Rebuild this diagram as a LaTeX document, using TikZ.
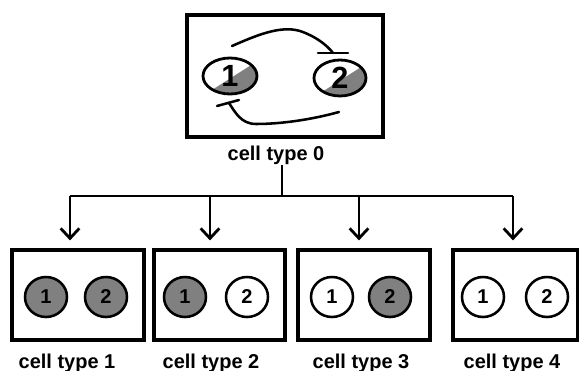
\documentclass[tikz,border=0pt]{standalone}
\usepackage{fontspec}
\setmainfont{Liberation Sans}
\usetikzlibrary{arrows.meta,shapes.geometric,calc}
\definecolor{cellgray}{RGB}{128,128,128}
\begin{document}
\begin{tikzpicture}[x=0.75pt,y=-0.75pt,
  cellbox/.style={draw,line width=2.4pt,inner sep=0,minimum height=67.5pt},
  gene/.style={draw,ellipse,line width=1.9pt,inner sep=0,minimum width=31.5pt,minimum height=30pt,
    font=\fontsize{15}{16}\selectfont\bfseries},
  geneon/.style={gene,fill=cellgray},
  bigene/.style={draw,ellipse,line width=2.1pt,inner sep=0,minimum height=27pt,
    font=\fontsize{23}{24}\selectfont\bfseries,
    path picture={\fill[cellgray] ($(path picture bounding box.center)+(-40,28)$)
      -- ++(80,-51) -- ++(0,70) -- ++(-80,0) -- cycle;}},
  lbl/.style={font=\fontsize{15}{16}\selectfont\bfseries,anchor=base,inner sep=0},
  branch/.style={line width=2.1pt},
  arrowline/.style={line width=2.1pt,-{Straight Barb[length=7.5pt,width=14pt]},shorten >=6pt},
  repress/.style={line width=1.9pt,line cap=round},
]
\useasboundingbox (0,0) rectangle (579,371);

% parent cell with its two mutually repressing genes
\node[cellbox,minimum width=147pt,minimum height=91.5pt] (top) at (285,76) {};
\node[bigene,minimum width=40.5pt] (e1) at (230,76) {1};
\node[bigene,minimum width=39pt] (e2) at (340,78) {2};
\node[lbl] (t0) at (276,160) {cell type 0};

% gene 1 represses gene 2
\coordinate (r1s) at (232,46);
\coordinate (r1e) at (333,53);
\draw[repress] (r1s) .. controls (255,36) and (280,25) .. (300,31)
  .. controls (315,36) and (327,45) .. (r1e);
\draw[repress] ($(r1e)+(-15,0)$) -- ($(r1e)+(15,0)$);

% gene 2 represses gene 1
\coordinate (r2s) at (339,112);
\coordinate (r2e) at (229,103);
\draw[repress] (r2s) .. controls (310,120) and (280,124) .. (256,124)
  .. controls (241,124) and (235,112) .. (r2e);
\draw[repress] ($(r2e)+(-12,3)$) -- ($(r2e)+(10,-3)$);

% differentiated cells
\node[cellbox,minimum width=99pt] (b1) at (78,295) {};
\node[cellbox,minimum width=98.25pt] (b2) at (219.5,295) {};
\node[cellbox,minimum width=99pt] (b3) at (364,295) {};
\node[cellbox,minimum width=93.75pt] (b4) at (515.5,295) {};

\node[geneon] (g11) at (46,297) {1};
\node[geneon] (g12) at (106,297) {2};
\node[geneon] (g21) at (185,297) {1};
\node[gene]   (g22) at (247,297) {2};
\node[gene]   (g31) at (332,297) {1};
\node[geneon] (g32) at (390,297) {2};
\node[gene]   (g41) at (483,297) {1};
\node[gene]   (g42) at (547,297) {2};

\node[lbl] (t1) at (67,368) {cell type 1};
\node[lbl] (t2) at (211,368) {cell type 2};
\node[lbl] (t3) at (361,368) {cell type 3};
\node[lbl] (t4) at (512,368) {cell type 4};

% lineage tree
\coordinate (hub) at (282,196);
\coordinate (h1) at (70,196);
\coordinate (h2) at (210,196);
\coordinate (h3) at (359,196);
\coordinate (h4) at (513,196);
\draw[branch] ($(t0.south -| hub)+(0,1)$) -- (hub);
\draw[branch] (h1) -- (h4);
\draw[arrowline] (h1) -- (h1 |- b1.north);
\draw[arrowline] (h2) -- (h2 |- b2.north);
\draw[arrowline] (h3) -- (h3 |- b3.north);
\draw[arrowline] (h4) -- (h4 |- b4.north);
\end{tikzpicture}
\end{document}
